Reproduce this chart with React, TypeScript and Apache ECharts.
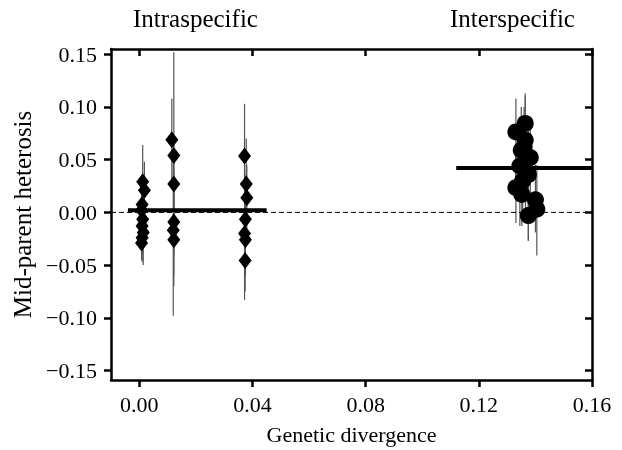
import React, { useEffect, useRef } from "react";
import * as echarts from "echarts";

// x ticks / y ticks
const xTicks = [0, 0.04, 0.08, 0.12, 0.16];
const yTicks = [-0.15, -0.1, -0.05, 0, 0.05, 0.1, 0.15];

// Intraspecific points: [divergence, heterosis]
const intraPoints: number[][] = [
  [0.0012, 0.029], [0.0018, 0.021], [0.001, 0.0075], [0.0008, 0.002], [0.0012, -0.0066],
  [0.001, -0.0128], [0.0014, -0.019], [0.001, -0.024], [0.0008, -0.029],
  [0.0115, 0.069], [0.0122, 0.054], [0.0122, 0.027], [0.0122, -0.009], [0.012, -0.017], [0.0122, -0.026],
  [0.0372, 0.0535], [0.0378, 0.027], [0.038, 0.0138], [0.0375, -0.0066], [0.0372, -0.02], [0.0375, -0.026], [0.0374, -0.0457],
];
// Intraspecific confidence intervals: [low, high]
const intraCI: number[][] = [
  [-0.005, 0.064], [-0.006, 0.048], [-0.018, 0.033], [-0.02, 0.025], [-0.03, 0.018],
  [-0.04, 0.014], [-0.05, 0.01], [-0.047, 0.002], [-0.045, -0.01],
  [0.03, 0.108], [-0.04, 0.152], [-0.02, 0.07], [-0.06, 0.04], [-0.098, 0.06], [-0.07, 0.02],
  [0.01, 0.103], [-0.01, 0.07], [-0.02, 0.045], [-0.05, 0.035], [-0.083, 0.04], [-0.06, 0.01], [-0.075, -0.01],
];

// Interspecific points
const interPoints: number[][] = [
  [0.1364, 0.0844], [0.1331, 0.0763], [0.1364, 0.0685], [0.136, 0.062], [0.135, 0.059],
  [0.1382, 0.052], [0.1345, 0.044], [0.1365, 0.04], [0.1375, 0.0357], [0.1355, 0.03],
  [0.1331, 0.0234], [0.1352, 0.017], [0.14, 0.012], [0.1405, 0.003], [0.1375, -0.003],
];
const interCI: number[][] = [
  [0.05, 0.11], [0.03, 0.108], [0.02, 0.113], [0.02, 0.1], [0.01, 0.1],
  [0.01, 0.09], [-0.013, 0.09], [0.0, 0.08], [-0.027, 0.08], [-0.005, 0.07],
  [-0.01, 0.06], [-0.013, 0.05], [-0.019, 0.045], [-0.041, 0.045], [-0.027, 0.03],
];

// Group means: [xStart, xEnd, mean]
const intraMean = [-0.004, 0.045, 0.002];
const interMean = [0.112, 0.16, 0.042];

const xRange = [-0.01, 0.16];
const yRange = [-0.159, 0.155];

const FONT = "Liberation Serif";

export default function App() {
  const ref = useRef<HTMLDivElement>(null);
  useEffect(() => {
    if (!ref.current) return;
    const chart = echarts.init(ref.current, undefined, { renderer: "svg" });
    const fmt = (v: number) => (v < 0 ? "\u2212" : "") + Math.abs(v).toFixed(2);
    const errData = [
      ...intraPoints.map((p, i) => [p[0], intraCI[i][0], intraCI[i][1]]),
      ...interPoints.map((p, i) => [p[0], interCI[i][0], interCI[i][1]]),
    ];
    const axisLine = { show: true, onZero: false, lineStyle: { color: "#000", width: 2.5 } };
    chart.setOption({
      animation: false,
      grid: { left: 111, right: 30, top: 49, bottom: 67, containLabel: false },
      xAxis: [
        {
          type: "value", min: xRange[0], max: xRange[1], position: "bottom",
          axisLine,
          axisTick: { show: true, inside: false, length: 7, customValues: xTicks, lineStyle: { color: "#000", width: 2.5 } },
          axisLabel: { show: true, customValues: xTicks, formatter: fmt, margin: 13, color: "#000", fontFamily: FONT, fontSize: 22 },
          splitLine: { show: false },
          name: "Genetic divergence", nameLocation: "middle", nameGap: 43,
          nameTextStyle: { color: "#000", fontFamily: FONT, fontSize: 22 },
        },
        {
          type: "value", min: xRange[0], max: xRange[1], position: "top",
          axisLine,
          axisTick: { show: true, inside: true, length: 7, customValues: xTicks, lineStyle: { color: "#000", width: 2.5 } },
          axisLabel: { show: false },
          splitLine: { show: false },
        },
      ],
      yAxis: [
        {
          type: "value", min: yRange[0], max: yRange[1], position: "left",
          axisLine,
          axisTick: { show: true, inside: false, length: 7, customValues: yTicks, lineStyle: { color: "#000", width: 2.5 } },
          axisLabel: { show: true, customValues: yTicks, formatter: fmt, margin: 14, color: "#000", fontFamily: FONT, fontSize: 22 },
          splitLine: { show: false },
          name: "Mid-parent heterosis", nameLocation: "middle", nameGap: 76,
          nameTextStyle: { color: "#000", fontFamily: FONT, fontSize: 25 },
        },
        {
          type: "value", min: yRange[0], max: yRange[1], position: "right",
          axisLine,
          axisTick: { show: true, inside: true, length: 7, customValues: yTicks, lineStyle: { color: "#000", width: 2.5 } },
          axisLabel: { show: false },
          splitLine: { show: false },
        },
      ],
      graphic: [
        { type: "text", left: 133, top: 6, style: { text: "Intraspecific", fill: "#000", font: `25px "${FONT}"` } },
        { type: "text", left: 450, top: 6, style: { text: "Interspecific", fill: "#000", font: `25px "${FONT}"` } },
      ],
      series: [
        {
          type: "custom",
          xAxisIndex: 0, yAxisIndex: 0,
          data: errData,
          encode: { x: 0, y: [1, 2] },
          renderItem: (params: any, api: any) => {
            const x = api.value(0), lo = api.value(1), hi = api.value(2);
            const p1 = api.coord([x, lo]);
            const p2 = api.coord([x, hi]);
            return {
              type: "line",
              shape: { x1: p1[0], y1: p1[1], x2: p2[0], y2: p2[1] },
              style: { stroke: "#555", lineWidth: 1.2 },
            };
          },
          z: 1,
        },
        {
          type: "line",
          data: [[xRange[0], 0], [xRange[1], 0]],
          symbol: "none",
          lineStyle: { color: "#000", width: 1, type: [5, 3] },
          z: 2,
        },
        {
          type: "line",
          data: [[intraMean[0], intraMean[2]], [intraMean[1], intraMean[2]]],
          symbol: "none",
          lineStyle: { color: "#000", width: 4 },
          z: 3,
        },
        {
          type: "line",
          data: [[interMean[0], interMean[2]], [interMean[1], interMean[2]]],
          symbol: "none",
          lineStyle: { color: "#000", width: 4 },
          z: 3,
        },
        {
          type: "scatter",
          data: intraPoints,
          symbol: "diamond",
          symbolSize: [13, 17],
          itemStyle: { color: "#000", opacity: 1 },
          z: 4,
        },
        {
          type: "scatter",
          data: interPoints,
          symbol: "circle",
          symbolSize: 17,
          itemStyle: { color: "#000", opacity: 1 },
          z: 4,
        },
      ],
    });
    return () => chart.dispose();
  }, []);
  return <div ref={ref} style={{ position: "fixed", left: 0, top: 0, width: 622, height: 450 }} />;
}
